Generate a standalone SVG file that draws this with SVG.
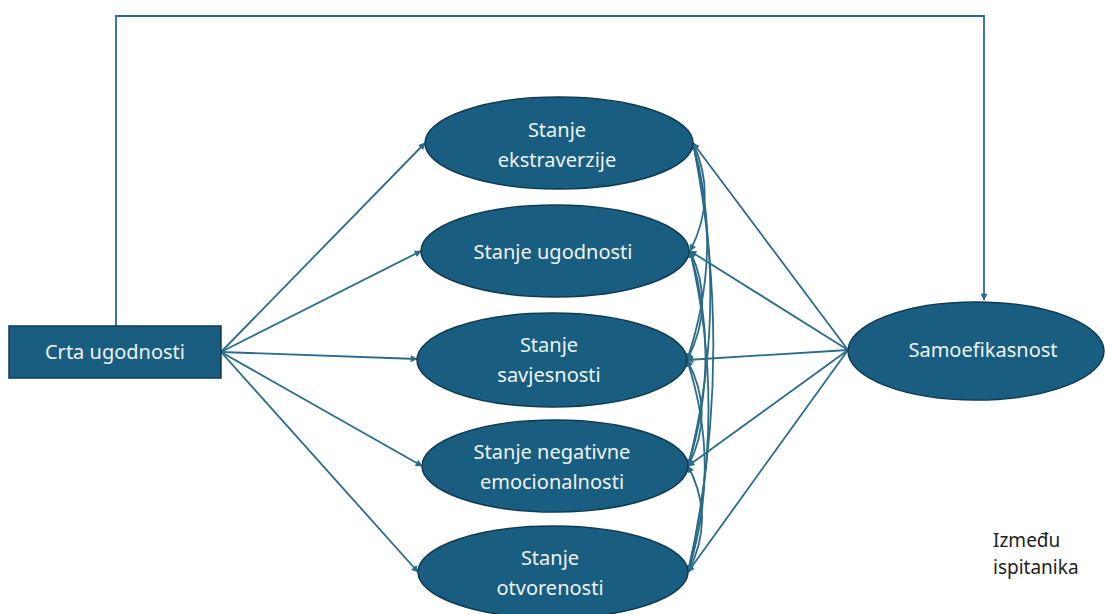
<svg xmlns="http://www.w3.org/2000/svg" width="1106" height="614" viewBox="0 0 1106 614">
<style>
.node{fill:#195e80;stroke:#0e3b52;stroke-width:1.5}
.lbl{font-family:"Noto Sans","Open Sans",sans-serif;font-size:20px;fill:#eef4f7;text-anchor:middle}
.c{fill:none;stroke:#2b6b8a;stroke-width:1.8}
.note{font-family:"Noto Sans","Open Sans",sans-serif;font-size:19px;fill:#222}
</style>
<defs>
<marker id="ah" viewBox="0 0 10 10" refX="9" refY="5" markerWidth="8" markerHeight="7" orient="auto-start-reverse" markerUnits="userSpaceOnUse">
<path d="M0,0 L10,5 L0,10 z" fill="#2b6b8a"/>
</marker>
</defs>
<rect width="1106" height="614" fill="#fff"/>
<g id="connectors">
<polyline class="c" points="116,326 116,16 984,16 984,300" marker-end="url(#ah)"/>
<line class="c" x1="221" y1="352" x2="425" y2="143" marker-end="url(#ah)"/>
<line class="c" x1="221" y1="352" x2="421" y2="251" marker-end="url(#ah)"/>
<line class="c" x1="221" y1="352" x2="417" y2="359" marker-end="url(#ah)"/>
<line class="c" x1="221" y1="352" x2="422" y2="466" marker-end="url(#ah)"/>
<line class="c" x1="221" y1="352" x2="418" y2="572" marker-end="url(#ah)"/>
<line class="c" x1="848" y1="350" x2="693" y2="143" marker-end="url(#ah)"/>
<line class="c" x1="848" y1="350" x2="690" y2="251" marker-end="url(#ah)"/>
<line class="c" x1="848" y1="350" x2="687" y2="360" marker-end="url(#ah)"/>
<line class="c" x1="848" y1="350" x2="688" y2="466" marker-end="url(#ah)"/>
<line class="c" x1="848" y1="350" x2="688" y2="572" marker-end="url(#ah)"/>
<path class="c" d="M693,143 Q718,197 690,251" marker-start="url(#ah)" marker-end="url(#ah)"/>
<path class="c" d="M693,143 Q724,251 687,360" marker-start="url(#ah)" marker-end="url(#ah)"/>
<path class="c" d="M693,143 Q730,305 688,466" marker-start="url(#ah)" marker-end="url(#ah)"/>
<path class="c" d="M693,143 Q736,358 688,572" marker-start="url(#ah)" marker-end="url(#ah)"/>
<path class="c" d="M690,251 Q716,305 687,360" marker-start="url(#ah)" marker-end="url(#ah)"/>
<path class="c" d="M690,251 Q722,358 688,466" marker-start="url(#ah)" marker-end="url(#ah)"/>
<path class="c" d="M690,251 Q728,412 688,572" marker-start="url(#ah)" marker-end="url(#ah)"/>
<path class="c" d="M687,360 Q716,413 688,466" marker-start="url(#ah)" marker-end="url(#ah)"/>
<path class="c" d="M687,360 Q722,466 688,572" marker-start="url(#ah)" marker-end="url(#ah)"/>
<path class="c" d="M688,466 Q716,519 688,572" marker-start="url(#ah)" marker-end="url(#ah)"/>
</g>
<g id="crta">
<rect class="node" x="9" y="326" width="212" height="52"/>
<text class="lbl" x="115" y="359">Crta ugodnosti</text>
</g>
<g id="ekstraverzija">
<ellipse class="node" cx="559" cy="143" rx="134" ry="46"/>
<text class="lbl" x="557" y="137">Stanje</text>
<text class="lbl" x="557" y="167">ekstraverzije</text>
</g>
<g id="ugodnost">
<ellipse class="node" cx="555" cy="251" rx="134" ry="46"/>
<text class="lbl" x="553" y="259">Stanje ugodnosti</text>
</g>
<g id="savjesnost">
<ellipse class="node" cx="552" cy="360" rx="135" ry="47"/>
<text class="lbl" x="549" y="352">Stanje</text>
<text class="lbl" x="549" y="382">savjesnosti</text>
</g>
<g id="negativna">
<ellipse class="node" cx="555" cy="466" rx="133" ry="46"/>
<text class="lbl" x="552" y="459">Stanje negativne</text>
<text class="lbl" x="552" y="489">emocionalnosti</text>
</g>
<g id="otvorenost">
<ellipse class="node" cx="553" cy="572" rx="135" ry="46"/>
<text class="lbl" x="550" y="565">Stanje</text>
<text class="lbl" x="550" y="595">otvorenosti</text>
</g>
<g id="samoefikasnost">
<ellipse class="node" cx="976" cy="351" rx="128" ry="49"/>
<text class="lbl" x="983" y="357">Samoefikasnost</text>
</g>
<g id="note">
<text class="note" x="993" y="547">Između</text>
<text class="note" x="993" y="574">ispitanika</text>
</g>
</svg>
